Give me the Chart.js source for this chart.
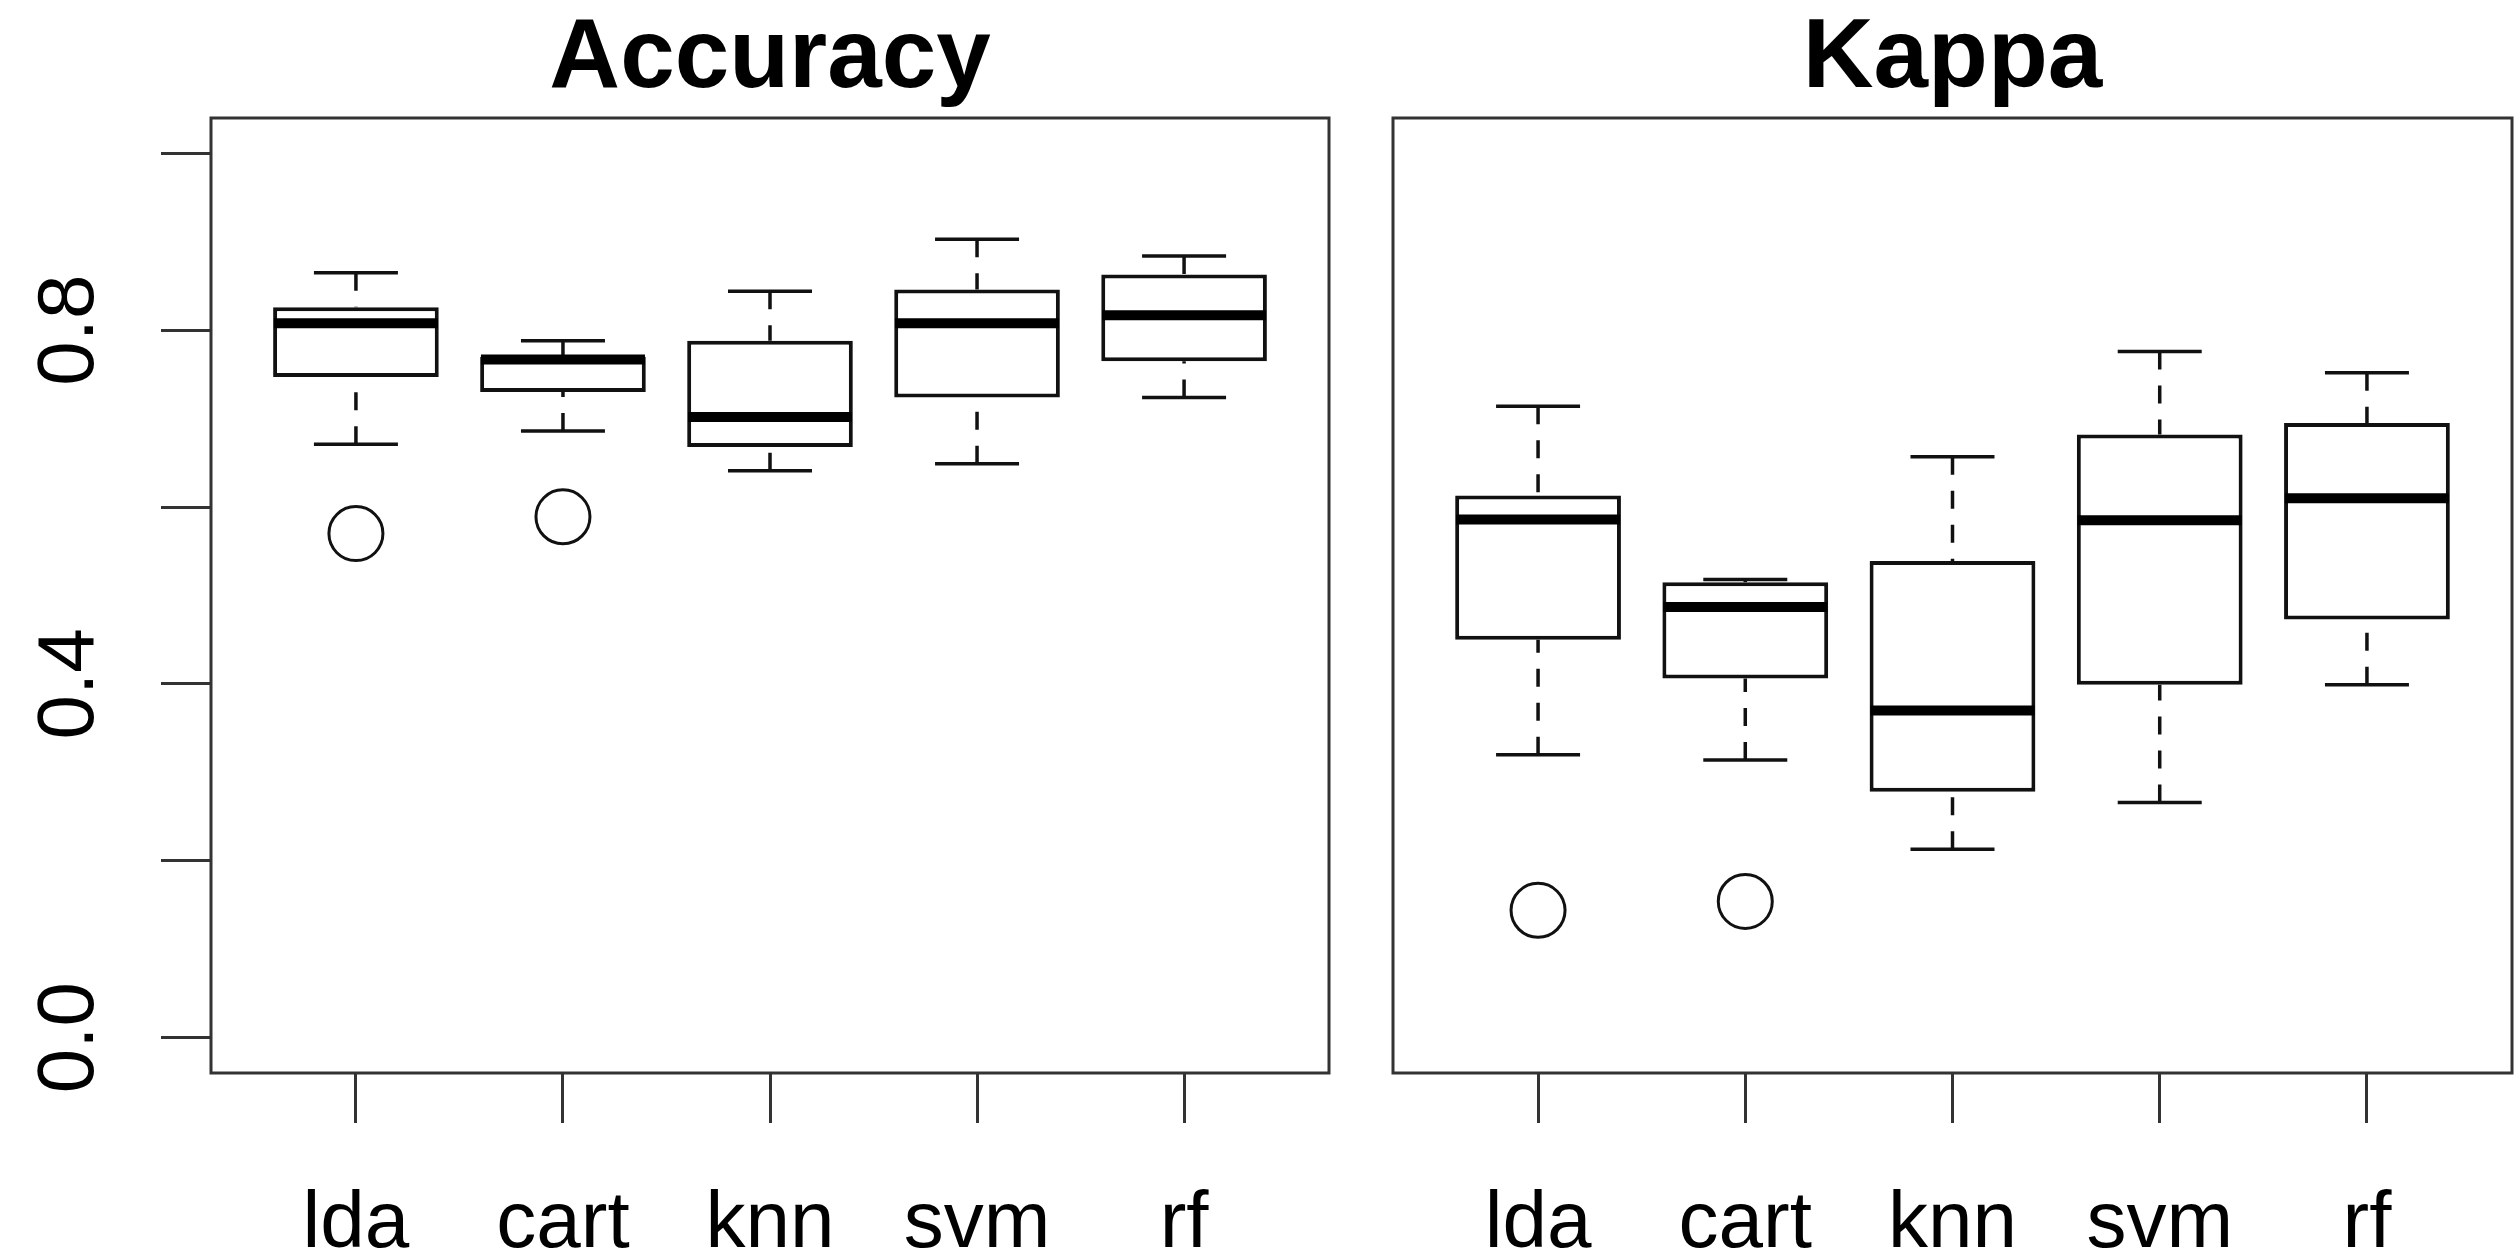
<!DOCTYPE html>
<html>
<head>
<meta charset="utf-8">
<script src="https://cdn.jsdelivr.net/npm/chart.js@4"></script>
<style>
  body { margin: 0; background: #fff; overflow: hidden; }
  canvas { position: absolute; top: 0; }
</style>
</head>
<body>
<canvas id="accuracyChart" width="1361" height="1253" style="left:0"></canvas>
<canvas id="kappaChart" width="1157" height="1253" style="left:1361px"></canvas>
<script>
const categories = ["lda", "cart", "knn", "svm", "rf"]

// Accuracy box stats
const accLow = [0.671, 0.686, 0.641, 0.649, 0.724]
const accQ1 = [0.747, 0.730, 0.668, 0.724, 0.765]
const accMedian = [0.808, 0.767, 0.702, 0.808, 0.817]
const accQ3 = [0.826, 0.770, 0.788, 0.846, 0.863]
const accHigh = [0.865, 0.788, 0.844, 0.903, 0.884]
const accOutliers = [0.570, 0.589, null, null, null]

// Kappa box stats
const kapLow = [0.320, 0.314, 0.213, 0.266, 0.399]
const kapQ1 = [0.450, 0.406, 0.278, 0.399, 0.473]
const kapMedian = [0.586, 0.487, 0.370, 0.585, 0.610]
const kapQ3 = [0.613, 0.515, 0.539, 0.682, 0.695]
const kapHigh = [0.714, 0.518, 0.657, 0.776, 0.752]
const kapOutliers = [0.144, 0.154, null, null, null]

const yTickLabels = [0.0, 0.4, 0.8]
const yRange = [-0.04, 1.04]
const xRange = [0.3, 5.7]

Chart.defaults.font.family = "'Liberation Sans', Arial, sans-serif"
Chart.defaults.color = "#000"

const ink = "#111"

/* frame round the plot area */
const framePlugin = {
    id: "frame",
    afterDatasetsDraw(chart) {
        const { ctx, chartArea: a } = chart
        ctx.save()
        ctx.strokeStyle = "#333"
        ctx.lineWidth = 3
        ctx.strokeRect(a.left, a.top, a.right - a.left, a.bottom - a.top)
        ctx.restore()
    }
}

function boxDatasets(low, q1, med, q3, high, outliers) {
    const xs = categories.map((c, i) => i + 1)

    const whiskers = []
    xs.forEach((x, i) => {
        whiskers.push({ x, y: high[i] }, { x, y: q3[i] }, { x, y: null })
        whiskers.push({ x, y: low[i] }, { x, y: q1[i] }, { x, y: null })
    })

    return [
        {
            type: "bar",
            data: xs.map((x, i) => ({ x, y: [q1[i], q3[i]] })),
            backgroundColor: "#fff",
            borderColor: ink,
            borderWidth: 4,
            borderSkipped: false,
            categoryPercentage: 1,
            barPercentage: 0.8,
            order: 3
        },
        {
            type: "line",
            data: whiskers,
            borderColor: ink,
            borderWidth: 3.5,
            borderDash: [18, 16],
            pointRadius: 0,
            spanGaps: false,
            fill: false,
            order: 4
        },
        {
            type: "scatter",
            data: xs.map((x, i) => ({ x, y: low[i] })).concat(xs.map((x, i) => ({ x, y: high[i] }))),
            pointStyle: "line",
            pointRadius: 42,
            pointBorderColor: ink,
            pointBorderWidth: 3.5,
            pointBackgroundColor: "rgba(0,0,0,0)",
            order: 2
        },
        {
            type: "scatter",
            data: xs.map((x, i) => ({ x, y: med[i] })),
            pointStyle: "line",
            pointRadius: 82,
            pointBorderColor: "#000",
            pointBorderWidth: 10,
            pointBackgroundColor: "rgba(0,0,0,0)",
            order: 1
        },
        {
            type: "scatter",
            data: xs.map((x, i) => ({ x, y: outliers[i] })).filter(p => p.y !== null),
            pointStyle: "circle",
            pointRadius: 27,
            pointBorderColor: ink,
            pointBorderWidth: 3,
            pointBackgroundColor: "rgba(0,0,0,0)",
            order: 2
        }
    ]
}

function makeChart(id, title, datasets, showY, padding) {
    const tickGrid = {
        drawOnChartArea: false,
        drawTicks: true,
        tickLength: 50,
        color: "#333",
        lineWidth: 3,
        offset: false
    }

    return new Chart(document.getElementById(id), {
        type: "scatter",
        data: { datasets },
        plugins: [framePlugin],
        options: {
            responsive: false,
            animation: false,
            events: [],
            layout: { padding, autoPadding: false },
            plugins: {
                legend: { display: false },
                tooltip: { enabled: false },
                title: {
                    display: true,
                    text: title,
                    fullSize: false,
                    color: "#000",
                    font: { size: 98, weight: "bold", lineHeight: 1 },
                    padding: { top: 11, bottom: 9 }
                }
            },
            scales: {
                x: {
                    type: "linear",
                    min: xRange[0],
                    max: xRange[1],
                    offset: false,
                    afterFit: s => {
                        s.height = 180
                        s.paddingLeft = 0
                        s.paddingRight = 0
                    },
                    grid: tickGrid,
                    border: { display: false },
                    ticks: {
                        stepSize: 1,
                        includeBounds: false,
                        autoSkip: false,
                        minRotation: 0,
                        maxRotation: 0,
                        padding: 62,
                        color: "#000",
                        font: { size: 80, lineHeight: 1 },
                        callback: v => categories[v - 1] ?? ""
                    }
                },
                y: {
                    type: "linear",
                    display: showY,
                    min: yRange[0],
                    max: yRange[1],
                    afterFit: s => {
                        if (showY) s.width = 211
                        s.paddingTop = 0
                        s.paddingBottom = 0
                    },
                    grid: tickGrid,
                    border: { display: false },
                    ticks: {
                        stepSize: 0.2,
                        includeBounds: false,
                        autoSkip: false,
                        minRotation: 90,
                        maxRotation: 90,
                        crossAlign: "center",
                        padding: 34,
                        color: "#000",
                        font: { size: 80, lineHeight: 1 },
                        callback: v => yTickLabels.some(t => Math.abs(t - v) < 1e-9) ? v.toFixed(1) : ""
                    }
                }
            }
        }
    })
}

makeChart("accuracyChart", "Accuracy",
    boxDatasets(accLow, accQ1, accMedian, accQ3, accHigh, accOutliers),
    true, { left: 0, right: 32, top: 0, bottom: 0 })

makeChart("kappaChart", "Kappa",
    boxDatasets(kapLow, kapQ1, kapMedian, kapQ3, kapHigh, kapOutliers),
    false, { left: 32, right: 6, top: 0, bottom: 0 })
</script>
</body>
</html>
